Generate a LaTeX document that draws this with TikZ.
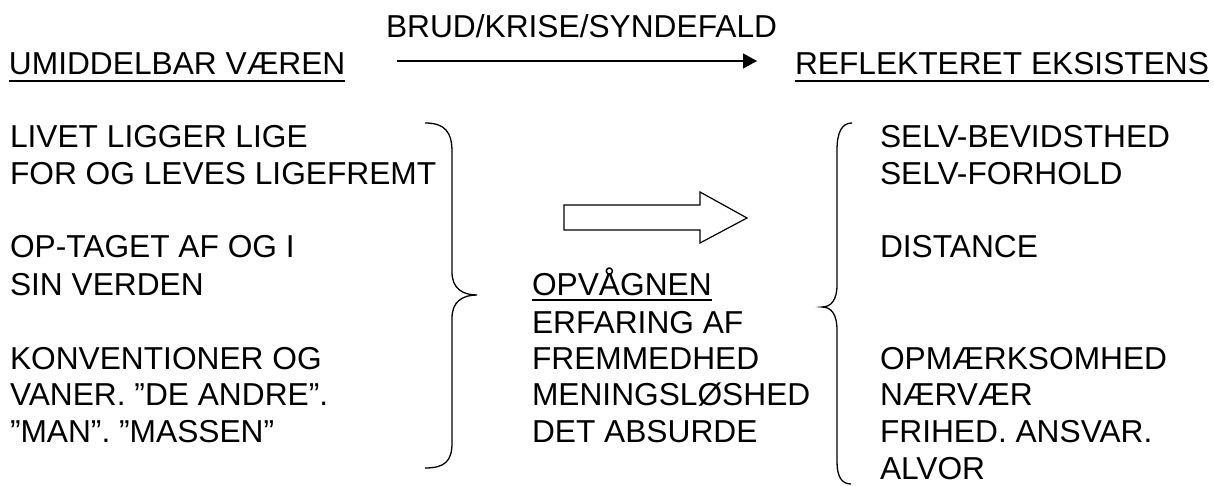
\documentclass[tikz,border=0pt]{standalone}
\usepackage{fontspec}
\setmainfont{Liberation Sans}
\usetikzlibrary{arrows.meta}
\begin{document}
\begin{tikzpicture}[x=1pt,y=-1pt,
  txt/.style={anchor=base west,inner sep=0pt,outer sep=0pt,font=\fontsize{31.7}{38}\selectfont},
  uline/.style={line width=2.2pt},
  brace/.style={line width=1.3pt},
  hollow/.style={line width=1.2pt,line join=miter}]
\useasboundingbox (0,0) rectangle (1214,486);
% header
\node[txt] (brud) at (386,38) {BRUD/KRISE/SYNDEFALD};
\node[txt] (umid) at (9,75) {UMIDDELBAR VÆREN};
\node[txt] (refl) at (795,75) {REFLEKTERET EKSISTENS};
\draw[uline] ([yshift=-6pt]umid.base west) -- ([yshift=-6pt]umid.base east);
\draw[uline] ([yshift=-6pt]refl.base west) -- ([yshift=-6pt]refl.base east);
\coordinate (as) at (397,61);
\coordinate (ae) at (757,61);
\draw[line width=1.5pt,-{Triangle[length=14pt,width=15pt]}] (as) -- (ae);
% left column
\node[txt] (l1) at (10,148) {LIVET LIGGER LIGE};
\node[txt] (l2) at (10,185) {FOR OG LEVES LIGEFREMT};
\node[txt] (l3) at (10,258) {OP-TAGET AF OG I};
\node[txt] (l4) at (10,295) {SIN VERDEN};
\node[txt] (l5) at (10,369) {KONVENTIONER OG};
\node[txt] (l6) at (10,405) {VANER. ”DE ANDRE”.};
\node[txt] (l7) at (10,442) {”MAN”. ”MASSEN”};
% centre column
\node[txt] (c1) at (532,295) {OPVÅGNEN};
\draw[line width=1.8pt] ([yshift=-5pt]c1.base west) -- ([yshift=-5pt]c1.base east);
\node[txt] (c2) at (532,333) {ERFARING AF};
\node[txt] (c3) at (532,369) {FREMMEDHED};
\node[txt] (c4) at (532,405) {MENINGSLØSHED};
\node[txt] (c5) at (532,442) {DET ABSURDE};
% right column
\node[txt] (r1) at (880,148) {SELV-BEVIDSTHED};
\node[txt] (r2) at (880,185) {SELV-FORHOLD};
\node[txt] (r3) at (880,258) {DISTANCE};
\node[txt] (r4) at (880,369) {OPMÆRKSOMHED};
\node[txt] (r5) at (880,405) {NÆRVÆR};
\node[txt] (r6) at (880,442) {FRIHED. ANSVAR.};
\node[txt] (r7) at (880,479) {ALVOR};
% left brace }
\draw[brace] (425,123) .. controls (445,123) and (452,132) .. (452,152)
  -- (452,272) .. controls (452,288) and (462,295) .. (477,295)
  .. controls (462,295) and (452,302) .. (452,318)
  -- (452,443) .. controls (452,461) and (445,468) .. (425,468);
% right brace {
\draw[brace] (852,123) .. controls (842,123) and (837,132) .. (837,150)
  -- (837,285) .. controls (837,300) and (831,307) .. (822,307)
  .. controls (831,307) and (837,314) .. (837,330)
  -- (837,462) .. controls (837,477) and (842,484) .. (851,484);
% hollow arrow
\draw[hollow] (564,205) -- (700,205) -- (700,192) -- (747,218) -- (700,243) -- (700,230) -- (564,230) -- cycle;
\end{tikzpicture}
\end{document}
